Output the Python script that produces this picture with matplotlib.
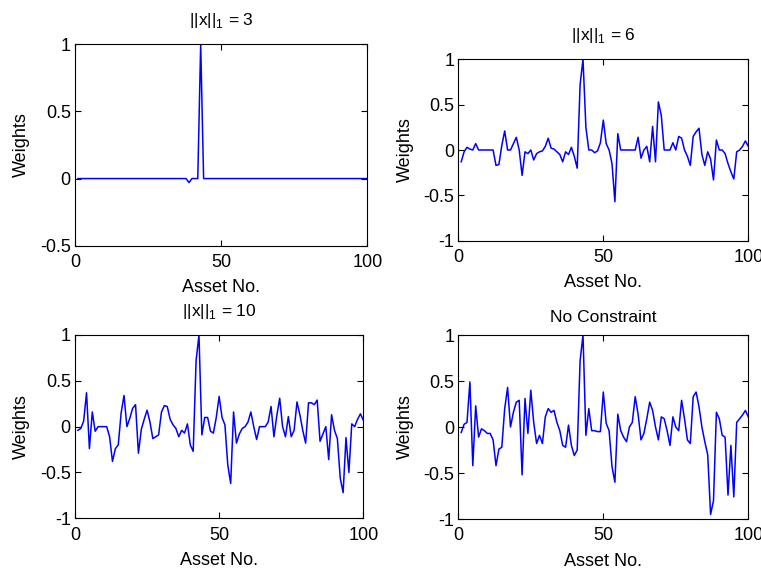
import matplotlib
matplotlib.use("Agg")
import matplotlib.pyplot as plt
import numpy as np

plt.rcParams["font.family"] = ["Liberation Sans", "DejaVu Sans"]
plt.rcParams["axes.unicode_minus"] = False
plt.rcParams["mathtext.fontset"] = "custom"
plt.rcParams["mathtext.rm"] = "Liberation Sans"

# asset index
assets = np.arange(1, 101)

# ||x||_1 = 3 : all zero except two assets
w3 = np.zeros(100)
w3[38] = -0.03
w3[42] = 1.0

w6 = [-0.13, -0.02, 0.03, 0.01, 0.0, 0.07, 0.0, 0.0, 0.0, 0.0,
      0.0, 0.0, -0.17, -0.16, 0.05, 0.21, 0.0, 0.0, 0.07, 0.14,
      0.0, -0.28, -0.02, -0.04, 0.0, -0.11, -0.04, -0.02, -0.01, 0.04,
      0.13, 0.02, 0.01, -0.02, -0.05, -0.13, -0.02, -0.05, 0.03, -0.07,
      -0.2, 0.72, 1.0, 0.25, 0.0, 0.0, -0.03, -0.01, 0.08, 0.33,
      0.07, 0.0, -0.15, -0.57, 0.18, 0.0, 0.0, 0.0, 0.0, 0.0,
      0.0, 0.14, -0.09, 0.0, 0.04, -0.13, 0.26, -0.13, 0.53, 0.38,
      0.0, 0.0, 0.0, 0.08, 0.0, 0.15, 0.13, 0.0, -0.07, -0.17,
      0.15, 0.2, 0.24, -0.05, -0.17, -0.02, -0.1, -0.33, 0.11, 0.0,
      0.0, -0.04, -0.15, -0.24, -0.32, -0.02, 0.0, 0.04, 0.1, 0.04]

w10 = [-0.04, -0.02, 0.06, 0.37, -0.24, 0.16, -0.05, 0.0, 0.0, 0.0,
       0.0, -0.11, -0.38, -0.24, -0.2, 0.15, 0.34, 0.0, 0.09, 0.2,
       0.24, -0.29, -0.03, 0.08, 0.18, 0.05, -0.13, -0.11, -0.09, 0.16,
       0.23, 0.22, 0.08, 0.02, -0.02, -0.11, -0.04, -0.07, 0.03, -0.2,
       -0.27, 0.72, 1.0, -0.09, 0.1, 0.1, -0.05, -0.07, 0.1, 0.33,
       0.1, 0.02, -0.42, -0.62, 0.16, -0.18, -0.08, -0.02, 0.0, 0.05,
       0.16, 0.0, -0.14, 0.0, 0.0, 0.0, 0.05, 0.22, -0.11, 0.12,
       0.31, 0.0, -0.11, 0.11, -0.11, -0.04, 0.27, 0.13, -0.04, -0.18,
       0.26, 0.26, 0.24, 0.29, -0.16, -0.08, 0.0, -0.36, 0.13, -0.04,
       -0.13, -0.56, -0.72, -0.12, -0.5, 0.03, 0.0, 0.08, 0.14, 0.07]

w_free = [-0.06, 0.03, 0.05, 0.49, -0.42, 0.23, -0.11, -0.02, -0.04, -0.07,
          -0.07, -0.14, -0.42, -0.24, -0.22, 0.2, 0.43, 0.0, 0.16, 0.27,
          0.29, -0.52, 0.31, -0.07, 0.4, 0.05, -0.18, -0.09, -0.18, 0.11,
          0.2, 0.16, 0.18, 0.05, -0.04, -0.2, -0.22, 0.02, -0.2, -0.31,
          -0.25, 0.72, 1.0, -0.09, 0.2, -0.04, -0.04, -0.05, -0.05, 0.38,
          0.04, -0.04, -0.43, -0.6, 0.14, -0.04, -0.11, -0.16, 0.0, 0.05,
          0.33, 0.14, -0.14, -0.07, 0.09, 0.27, 0.18, 0.0, -0.14, 0.11,
          0.09, -0.04, -0.2, 0.11, 0.0, -0.04, 0.29, 0.09, -0.14, -0.18,
          0.33, 0.38, 0.22, 0.0, -0.16, -0.3, -0.95, -0.8, 0.16, 0.09,
          -0.09, -0.11, -0.74, -0.2, -0.76, 0.05, 0.09, 0.13, 0.18, 0.11]

titles = [r"||x||$_\mathregular{1}$ = 3", r"||x||$_\mathregular{1}$ = 6",
          r"||x||$_\mathregular{1}$ = 10", "No Constraint"]
series = [w3, w6, w10, w_free]
xticks = [0, 50, 100]
xticklabels = ["0", "50", "100"]
yticks_first = [-0.5, 0, 0.5, 1]
yticklabels_first = ["-0.5", "0", "0.5", "1"]
yticks = [-1, -0.5, 0, 0.5, 1]
yticklabels = ["-1", "-0.5", "0", "0.5", "1"]

W, H = 761.0, 575.0
# axes boxes in pixels: left, top, right, bottom
boxes = [(75, 44.3, 367.3, 245.7),
         (458.3, 59.3, 748.3, 240.7),
         (75, 335, 363.3, 518.3),
         (458.3, 335, 748.3, 519)]
# subscript titles sit higher in the original
title_pads = [14, 14, 14, 9]

fig = plt.figure(figsize=(7.61, 5.75), dpi=100)

for i, (l, t, r, b) in enumerate(boxes):
    ax = fig.add_axes([l / W, 1 - b / H, (r - l) / W, (b - t) / H])
    ax.plot(assets, series[i], color="#0000ff", lw=1.1)
    ax.set_xlim(0, 100)
    if i == 0:
        ax.set_ylim(-0.5, 1)
        ax.set_yticks(yticks_first)
        ax.set_yticklabels(yticklabels_first)
    else:
        ax.set_ylim(-1, 1)
        ax.set_yticks(yticks)
        ax.set_yticklabels(yticklabels)
    ax.set_xticks(xticks)
    ax.set_xticklabels(xticklabels)
    ax.tick_params(direction="in", top=True, right=True, length=4,
                   width=0.8, labelsize=13)
    ax.tick_params(axis="x", pad=6)
    ax.tick_params(axis="y", pad=3)
    for sp in ax.spines.values():
        sp.set_linewidth(0.8)
    ax.set_title(titles[i], fontsize=12.5, pad=title_pads[i])
    ax.set_xlabel("Asset No.", fontsize=13, labelpad=6)
    ax.set_ylabel("Weights", fontsize=13, labelpad=7)

fig.savefig("out.png", dpi=100)
